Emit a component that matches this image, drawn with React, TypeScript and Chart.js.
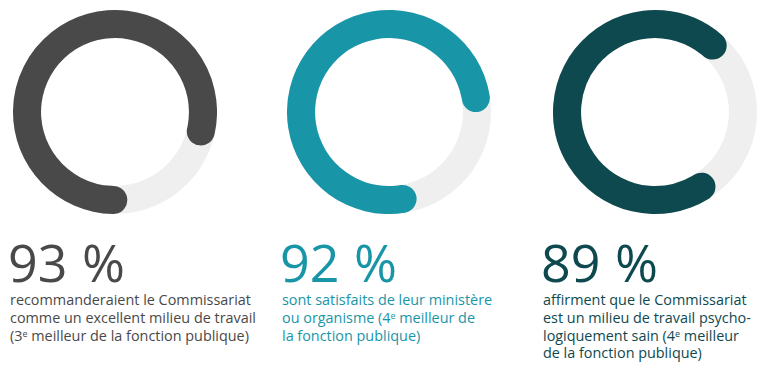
import React, { useEffect, useRef } from "react";
import { Chart, ArcElement, DoughnutController } from "chart.js";

Chart.register(ArcElement, DoughnutController);

// Values shown as text
const percentages = [93, 92, 89];
// Share of the ring actually painted in the reference (read from the arcs)
const arcShares = [83.3, 80, 75.3];
// Full background track
const trackShare = [100];

const descriptions: string[][] = [
  [
    "recommanderaient le Commissariat",
    "comme un excellent milieu de travail",
    "(3{e} meilleur de la fonction publique)",
  ],
  [
    "sont satisfaits de leur ministère",
    "ou organisme (4{e} meilleur de",
    "la fonction publique)",
  ],
  [
    "affirment que le Commissariat",
    "est un milieu de travail psycho-",
    "logiquement sain (4{e} meilleur",
    "de la fonction publique)",
  ],
];

// Styling / layout (not data)
const colors = ["#494949", "#1995a8", "#0e494f"];
const trackColor = "#efefef";
const startAngles = [172, 162, 139];
const chartLeft = [13, 287, 553];
const textLeft = [10, 282, 543];
const chartTop = 10;
const chartSize = 204;
const CUTOUT = "72.5%";
const FONT = "'Open Sans', 'Noto Sans', sans-serif";

function Ring({ idx }: { idx: number }) {
  const trackRef = useRef<HTMLCanvasElement>(null);
  const valueRef = useRef<HTMLCanvasElement>(null);

  useEffect(() => {
    const common = {
      responsive: false,
      animation: false as const,
      events: [] as any[],
      cutout: CUTOUT,
      layout: { padding: 0 },
      plugins: { legend: { display: false }, tooltip: { enabled: false } },
    };
    const track = new Chart(trackRef.current!, {
      type: "doughnut",
      data: {
        labels: ["track"],
        datasets: [{ data: trackShare, backgroundColor: [trackColor], borderWidth: 0 }],
      },
      options: { ...common },
    });
    const value = new Chart(valueRef.current!, {
      type: "doughnut",
      data: {
        labels: ["value", "rest"],
        datasets: [
          {
            data: [arcShares[idx], 100 - arcShares[idx]],
            backgroundColor: [colors[idx], "rgba(0,0,0,0)"],
            borderWidth: 0,
            borderRadius: [100, 0],
          } as any,
        ],
      },
      options: { ...common, rotation: startAngles[idx] } as any,
    });
    return () => {
      track.destroy();
      value.destroy();
    };
  }, [idx]);

  const style: React.CSSProperties = {
    position: "absolute",
    left: 0,
    top: 0,
    width: chartSize,
    height: chartSize,
  };
  return (
    <div
      style={{
        position: "absolute",
        left: chartLeft[idx],
        top: chartTop,
        width: chartSize,
        height: chartSize,
      }}
    >
      <canvas ref={trackRef} width={chartSize} height={chartSize} style={style} />
      <canvas ref={valueRef} width={chartSize} height={chartSize} style={style} />
    </div>
  );
}

function renderLine(line: string) {
  const parts = line.split("{e}");
  const out: React.ReactNode[] = [];
  parts.forEach((p, i) => {
    out.push(<span key={"t" + i}>{p}</span>);
    if (i < parts.length - 1)
      out.push(
        <sup key={"s" + i} style={{ fontSize: "0.62em", verticalAlign: "0.45em", lineHeight: 0 }}>
          e
        </sup>
      );
  });
  return out;
}

function TextBlock({ idx }: { idx: number }) {
  return (
    <>
      <div
        style={{
          position: "absolute",
          left: textLeft[idx] - 2,
          top: 236,
          fontFamily: FONT,
          fontWeight: 400,
          fontSize: 52,
          lineHeight: "52px",
          wordSpacing: 1,
          color: colors[idx],
          whiteSpace: "nowrap",
        }}
      >
        {percentages[idx]} %
      </div>
      <div
        style={{
          position: "absolute",
          left: textLeft[idx],
          top: 291,
          fontFamily: FONT,
          fontSize: 14.4,
          lineHeight: "17.8px",
          color: colors[idx],
          whiteSpace: "nowrap",
        }}
      >
        {descriptions[idx].map((l, i) => (
          <div key={i}>{renderLine(l)}</div>
        ))}
      </div>
    </>
  );
}

export default function App() {
  return (
    <div
      style={{
        position: "fixed",
        left: 0,
        top: 0,
        width: 760,
        height: 370,
        background: "#ffffff",
        overflow: "hidden",
      }}
    >
      {percentages.map((_, i) => (
        <Ring key={"r" + i} idx={i} />
      ))}
      {percentages.map((_, i) => (
        <TextBlock key={"t" + i} idx={i} />
      ))}
    </div>
  );
}
